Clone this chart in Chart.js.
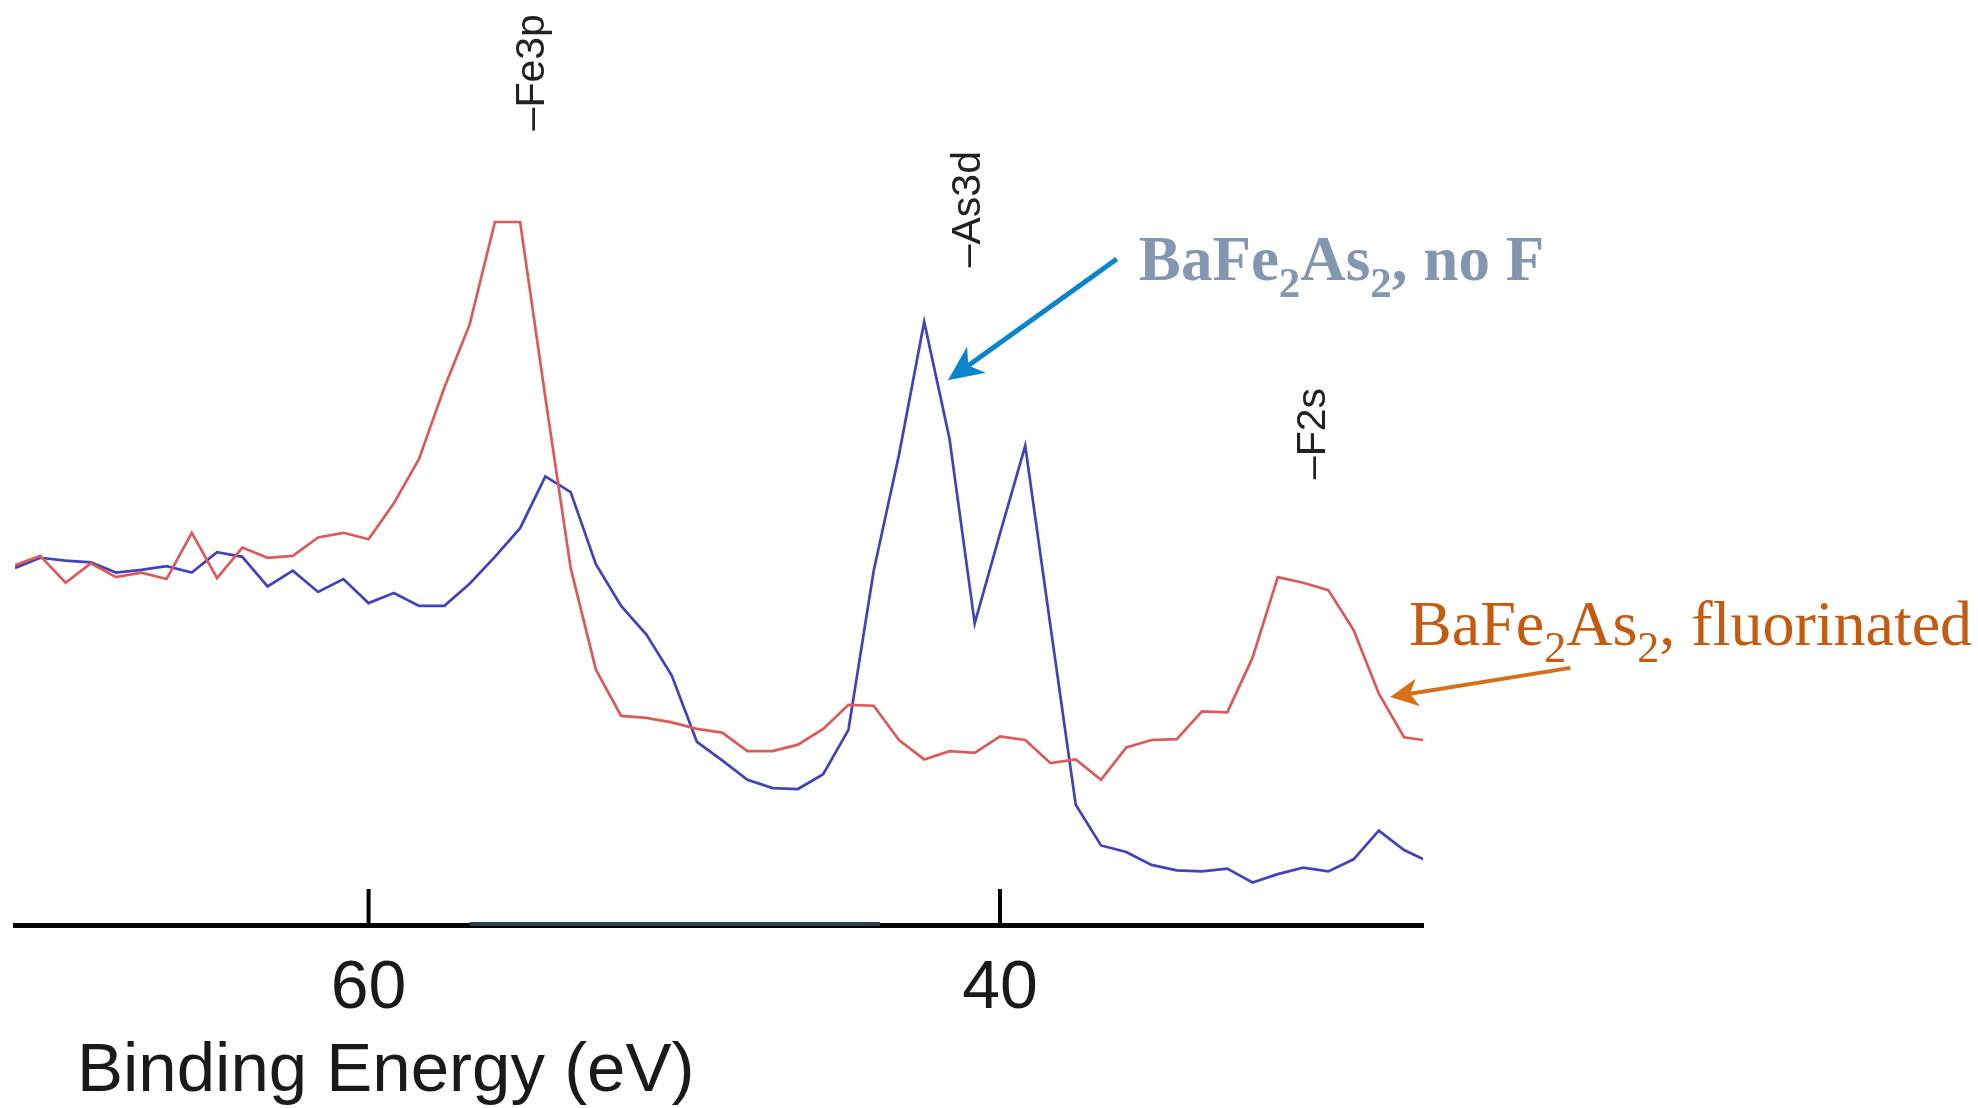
<!DOCTYPE html>
<html>
<head>
<meta charset="utf-8">
<script src="https://cdn.jsdelivr.net/npm/chart.js@4.4.1/dist/chart.umd.min.js"></script>
<style>
  html, body { margin: 0; padding: 0; background: #fff; }
  #wrap { width: 1978px; height: 1108px; }
</style>
</head>
<body>
<div id="wrap"><canvas id="myChart" width="1978" height="1108"></canvas></div>
<script>
// binding energy of each sample point (eV), scan goes high -> low
var energies = [71.2, 70.4, 69.6, 68.8, 68.0, 67.2, 66.4, 65.6, 64.8, 64.0,
  63.2, 62.4, 61.6, 60.8, 60.0, 59.2, 58.4, 57.6, 56.8, 56.0,
  55.2, 54.4, 53.6, 52.8, 52.0, 51.2, 50.4, 49.6, 48.8, 48.0,
  47.2, 46.4, 45.6, 44.8, 44.0, 43.2, 42.4, 41.6, 40.8, 40.0,
  39.2, 38.4, 37.6, 36.8, 36.0, 35.2, 34.4, 33.6, 32.8, 32.0,
  31.2, 30.4, 29.6, 28.8, 28.0, 27.2, 26.4];

// intensity, arbitrary units
var fluorinated = [38.9, 39.9, 37.0, 39.1, 37.6, 38.1, 37.4, 42.4, 37.5, 40.8,
  39.7, 39.9, 41.9, 42.4, 41.7, 45.6, 50.4, 58.1, 64.9, 76.0,
  76.0, 57.0, 38.6, 27.6, 22.6, 22.4, 21.9, 21.2, 20.8, 18.8,
  18.8, 19.5, 21.2, 23.8, 23.7, 20.0, 17.9, 18.8, 18.6, 20.4,
  20.0, 17.5, 17.9, 15.7, 19.2, 20.0, 20.1, 23.1, 23.0, 28.9,
  37.6, 37.0, 36.2, 31.9, 25.0, 20.3, 19.9];

var noFluorine = [38.6, 39.7, 39.4, 39.2, 38.1, 38.4, 38.8, 38.1, 40.3, 39.8,
  36.6, 38.3, 36.0, 37.4, 34.8, 35.9, 34.5, 34.5, 36.9, 39.8,
  42.9, 48.5, 46.8, 39.0, 34.5, 31.4, 27.0, 19.8, 17.8, 15.7,
  14.8, 14.7, 16.3, 21.1, 38.3, 50.8, 65.2, 52.6, 32.6, 42.3,
  51.8, 32.3, 13.0, 8.6, 7.9, 6.5, 5.9, 5.8, 6.1, 4.6,
  5.5, 6.2, 5.8, 7.1, 10.2, 8.1, 6.8];

var tickValues = [60, 40];

// core level markers: name, energy, intensity where the text starts
var peakNames = ['\u2013Fe3p', '\u2013As3d', '\u2013F2s'];
var peakEnergies = [54.8, 41.0, 30.05];
var peakLevels = [85.9, 71.1, 48.2];

function toPoints(ys) {
  return ys.map(function (y, i) { return { x: energies[i], y: y }; });
}

function drawFormula(ctx, x, y, parts, size, weight, color) {
  ctx.fillStyle = color;
  ctx.textAlign = 'left';
  ctx.textBaseline = 'alphabetic';
  parts.forEach(function (p) {
    var sub = p[1];
    ctx.font = weight + ' ' + (sub ? Math.round(size * 0.68) : size) + 'px "Liberation Serif", "Times New Roman", serif';
    ctx.fillText(p[0], x, sub ? y + size * 0.27 : y);
    x += ctx.measureText(p[0]).width;
  });
}

function drawArrow(ctx, x0, y0, x1, y1, color, width, headLen, headHalf) {
  var dx = x1 - x0, dy = y1 - y0;
  var len = Math.sqrt(dx * dx + dy * dy);
  var ux = dx / len, uy = dy / len;
  var px = -uy, py = ux;
  var bx = x1 - ux * headLen, by = y1 - uy * headLen;
  var nx = x1 - ux * headLen * 0.72, ny = y1 - uy * headLen * 0.72;
  ctx.strokeStyle = color;
  ctx.lineWidth = width;
  ctx.lineCap = 'butt';
  ctx.beginPath();
  ctx.moveTo(x0, y0);
  ctx.lineTo(nx, ny);
  ctx.stroke();
  ctx.fillStyle = color;
  ctx.beginPath();
  ctx.moveTo(x1, y1);
  ctx.lineTo(bx + px * headHalf, by + py * headHalf);
  ctx.lineTo(nx, ny);
  ctx.lineTo(bx - px * headHalf, by - py * headHalf);
  ctx.closePath();
  ctx.fill();
}

var decorations = {
  id: 'decorations',
  afterDraw: function (chart) {
    var ctx = chart.ctx;
    var xs = chart.scales.x, ys = chart.scales.y;
    var axisY = chart.chartArea.bottom;
    ctx.save();

    // odd dark band on the axis line
    ctx.strokeStyle = '#2e3f52';
    ctx.lineWidth = 4;
    ctx.beginPath();
    ctx.moveTo(xs.getPixelForValue(56.8), axisY - 1);
    ctx.lineTo(xs.getPixelForValue(43.8), axisY - 1);
    ctx.stroke();

    // inward tick marks
    ctx.strokeStyle = '#000';
    ctx.lineWidth = 4;
    tickValues.forEach(function (v) {
      var x = xs.getPixelForValue(v);
      ctx.beginPath();
      ctx.moveTo(x, axisY);
      ctx.lineTo(x, axisY - 36);
      ctx.stroke();
    });

    // axis title
    ctx.fillStyle = '#1a1a1a';
    ctx.font = '69px "Liberation Sans", Arial, sans-serif';
    ctx.textAlign = 'left';
    ctx.textBaseline = 'alphabetic';
    ctx.fillText('Binding Energy (eV)', 77, 1091);

    // core level labels, rotated
    ctx.font = '41px "Liberation Sans", Arial, sans-serif';
    ctx.fillStyle = '#222';
    peakNames.forEach(function (name, i) {
      ctx.save();
      ctx.translate(xs.getPixelForValue(peakEnergies[i]), ys.getPixelForValue(peakLevels[i]));
      ctx.rotate(-Math.PI / 2);
      ctx.textAlign = 'left';
      ctx.textBaseline = 'middle';
      ctx.fillText(name, 0, 0);
      ctx.restore();
    });

    // callouts
    drawArrow(ctx, xs.getPixelForValue(36.3), ys.getPixelForValue(72.0),
      xs.getPixelForValue(41.65), ys.getPixelForValue(58.9), '#0a84cc', 5, 35, 16);
    drawFormula(ctx, xs.getPixelForValue(35.6), ys.getPixelForValue(69.7),
      [['BaFe', false], ['2', true], ['As', false], ['2', true], [', no F', false]],
      63, 'bold', '#8497b0');

    drawArrow(ctx, xs.getPixelForValue(21.93), ys.getPixelForValue(27.8),
      xs.getPixelForValue(27.64), ys.getPixelForValue(24.65), '#d4711a', 4, 28, 14);
    drawFormula(ctx, xs.getPixelForValue(27.04), ys.getPixelForValue(30.27),
      [['BaFe', false], ['2', true], ['As', false], ['2', true], [', fluorinated', false]],
      64, 'normal', '#c55a11');

    ctx.restore();
  }
};

var ctx = document.getElementById('myChart').getContext('2d');
var chart = new Chart(ctx, {
  type: 'line',
  data: {
    datasets: [{
      label: 'BaFe2As2, fluorinated',
      data: toPoints(fluorinated),
      borderColor: '#dc5a5a',
      borderWidth: 2.7,
      pointRadius: 0,
      tension: 0,
      clip: 0
    }, {
      label: 'BaFe2As2, no F',
      data: toPoints(noFluorine),
      borderColor: '#4242bd',
      borderWidth: 2.7,
      pointRadius: 0,
      tension: 0,
      clip: 0
    }]
  },
  options: {
    responsive: false,
    animation: false,
    devicePixelRatio: 1,
    layout: { padding: { left: 15, right: 555, top: 0, bottom: 0 } },
    plugins: { legend: { display: false }, tooltip: { enabled: false } },
    scales: {
      x: {
        type: 'linear',
        reverse: true,
        min: 26.6,
        max: 71.2,
        afterBuildTicks: function (scale) {
          scale.ticks = tickValues.map(function (v) { return { value: v }; });
        },
        afterFit: function (scale) { scale.height = 183; },
        grid: { display: false, drawTicks: false },
        border: { display: true, color: '#000', width: 5 },
        ticks: {
          autoSkip: false,
          maxRotation: 0,
          padding: 23,
          color: '#1a1a1a',
          font: { family: '"Liberation Sans", Arial, sans-serif', size: 68 },
          callback: function (v) { return String(v); }
        }
      },
      y: {
        display: false,
        min: 0,
        max: 100
      }
    }
  },
  plugins: [decorations]
});
</script>
</body>
</html>
